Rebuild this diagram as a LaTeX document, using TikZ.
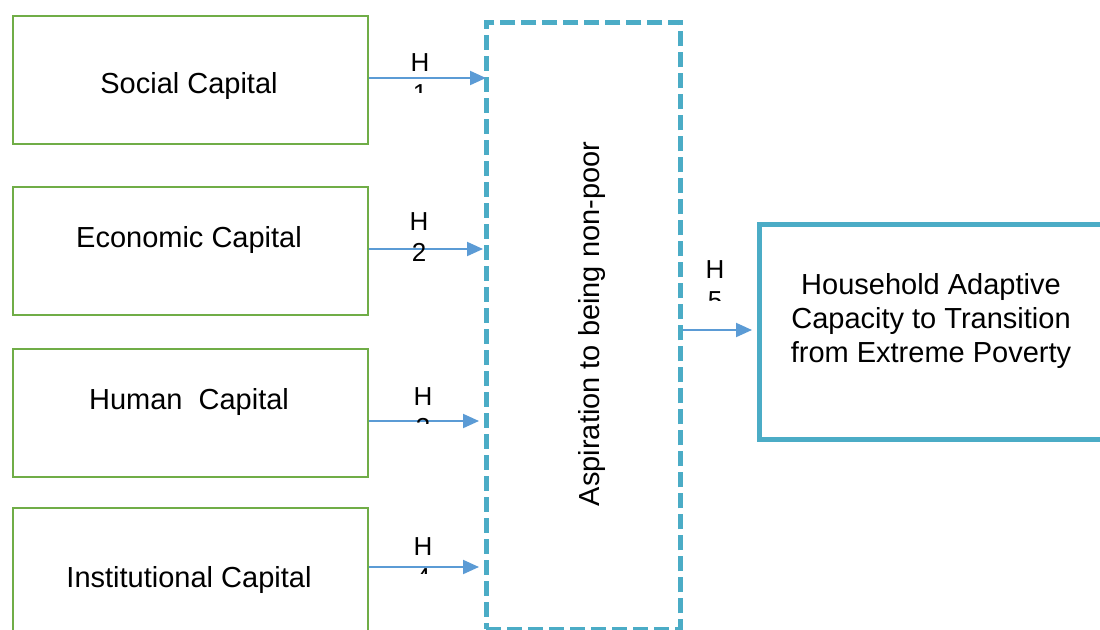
\documentclass[tikz,border=0pt]{standalone}
\usepackage{fontspec}
\setmainfont{Liberation Sans}
\usetikzlibrary{arrows.meta}
\definecolor{capgreen}{HTML}{70AD47}
\definecolor{aspteal}{HTML}{4BACC6}
\definecolor{arrblue}{HTML}{5B9BD5}
\tikzset{
  capbox/.style={draw=capgreen, line width=2.2pt, minimum width=355pt, anchor=north west, inner sep=0pt},
  captext/.style={font=\fontsize{29}{34}\selectfont, inner sep=0pt},
  aspbox/.style={draw=aspteal, line width=4.5pt, dash pattern=on 15pt off 6pt, anchor=north west, minimum width=194pt, minimum height=607pt, inner sep=0pt},
  hhbox/.style={draw=aspteal, line width=4.5pt, anchor=north west, minimum width=420pt, minimum height=215pt, inner sep=0pt},
  arr/.style={draw=arrblue, line width=2pt, -{Triangle[length=16pt,width=14pt]}},
  hlab/.style={font=\fontsize{26}{31.5}\selectfont, align=center, inner sep=0pt, anchor=north}
}
\begin{document}
\begin{tikzpicture}[x=1pt,y=-1pt]
\clip (0,0) rectangle (1100,629);
\fill[white] (0,0) rectangle (1100,629);
% left boxes
\node[capbox, minimum height=128pt] (soc) at (12,15) {};
\node[capbox, minimum height=128pt] (eco) at (12,186) {};
\node[capbox, minimum height=128pt] (hum) at (12,348) {};
\node[capbox, minimum height=140pt] (ins) at (12,507) {};
\node[captext] (soct) at (189,86) {Social Capital};
\node[captext] (ecot) at (189,240) {Economic Capital};
\node[captext] (humt) at (189,402) {Human\ \ Capital};
\node[captext] (inst) at (189,580) {Institutional Capital};
% mediator
\node[aspbox] (asp) at (484,20) {};
\node[captext, rotate=90] (aspt) at (592,324) {Aspiration to being non-poor};
% outcome
\node[hhbox] (hh) at (757,222) {};
\node[captext, align=center] (hht) at (931,321) {Household Adaptive\\Capacity to Transition\\from Extreme Poverty};
% arrows
\draw[arr] (soc.east |- 0,78) -- ([xshift=2pt]asp.west |- 0,78);
\draw[arr] (eco.east |- 0,249) -- ([xshift=-1pt]asp.west |- 0,249);
\draw[arr] (hum.east |- 0,421) -- ([xshift=-5pt]asp.west |- 0,421);
\draw[arr] (ins.east |- 0,567) -- ([xshift=-5pt]asp.west |- 0,567);
\draw[arr] (asp.east |- 0,330) -- ([xshift=-5pt]hh.west |- 0,330);
% hypothesis labels (clipped text boxes)
\begin{scope}
\clip (395,40) rectangle (445,92);
\node[hlab] (h1) at (420,53) {H\\1};
\end{scope}
\node[hlab] (h2) at (419,212) {H\\2};
\begin{scope}
\clip (395,375) rectangle (450,423);
\node[hlab] (h3) at (423,387) {H\\3};
\end{scope}
\begin{scope}
\clip (395,525) rectangle (450,573);
\node[hlab] (h4) at (423,537) {H\\4};
\end{scope}
\begin{scope}
\clip (690,245) rectangle (740,300);
\node[hlab] (h5) at (715,260) {H\\5};
\end{scope}
\end{tikzpicture}
\end{document}
